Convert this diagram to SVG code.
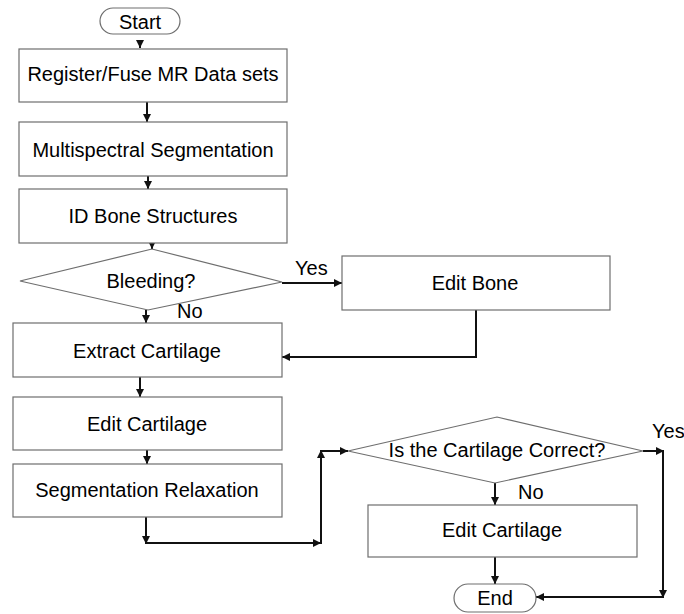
<svg xmlns="http://www.w3.org/2000/svg" width="684" height="614" viewBox="0 0 684 614">
<defs>
<style>
.box{fill:#fff;stroke:#6e6e6e;stroke-width:1.2}
.t{font-family:"Liberation Sans",Arial,sans-serif;font-size:20px;fill:#000;text-anchor:middle}
.l{font-family:"Liberation Sans",Arial,sans-serif;font-size:20px;fill:#000}
.c{stroke:#111;stroke-width:2;fill:none}
.a{marker-end:url(#ah)}
</style>
<marker id="ah" markerUnits="userSpaceOnUse" markerWidth="9" markerHeight="9" refX="8" refY="4" orient="auto">
<path d="M0,0 L8,4 L0,8 z" fill="#111"/>
</marker>
</defs>
<rect width="684" height="614" fill="#fff"/>
<g id="connectors">
<line class="c a" x1="140" y1="40" x2="140" y2="48"/>
<line class="c a" x1="147" y1="102" x2="147" y2="122"/>
<line class="c a" x1="148" y1="176" x2="148" y2="189"/>
<line class="c a" x1="152" y1="243" x2="152" y2="249"/>
<line class="c a" x1="146" y1="310" x2="146" y2="323"/>
<line class="c a" x1="282" y1="283" x2="342" y2="283"/>
<path class="c a" d="M476,310 V357 H282"/>
<line class="c a" x1="140" y1="377" x2="140" y2="397"/>
<line class="c a" x1="147" y1="450" x2="147" y2="464"/>
<line class="c a" x1="146" y1="517" x2="146" y2="544"/>
<line class="c a" x1="146" y1="543" x2="321" y2="543"/>
<line class="c a" x1="321" y1="544" x2="321" y2="450"/>
<line class="c a" x1="320" y1="451" x2="348" y2="451"/>
<line class="c a" x1="495" y1="483" x2="495" y2="505"/>
<line class="c a" x1="495" y1="557" x2="495" y2="584"/>
<line class="c a" x1="643" y1="451" x2="664" y2="451"/>
<line class="c a" x1="663" y1="450" x2="663" y2="598"/>
<line class="c a" x1="664" y1="597" x2="536" y2="597"/>
<text class="l" x="295" y="275">Yes</text>
<text class="l" x="177" y="318">No</text>
<text class="l" x="518" y="499">No</text>
<text class="l" x="652" y="438">Yes</text>
</g>
<g id="start">
<rect class="box" x="100" y="8" width="80" height="26" rx="13"/>
<text class="t" x="140" y="29">Start</text>
</g>
<g id="register">
<rect class="box" x="19" y="49" width="268" height="53"/>
<text class="t" x="153" y="81">Register/Fuse MR Data sets</text>
</g>
<g id="multispectral">
<rect class="box" x="19" y="122" width="268" height="54"/>
<text class="t" x="153" y="157">Multispectral Segmentation</text>
</g>
<g id="idbone">
<rect class="box" x="19" y="189" width="268" height="54"/>
<text class="t" x="153" y="223">ID Bone Structures</text>
</g>
<g id="bleeding">
<polygon class="box" points="20,281 152,249 282,282 148,310"/>
<text class="t" x="151" y="288">Bleeding?</text>
</g>
<g id="editbone">
<rect class="box" x="342" y="256" width="268" height="54"/>
<text class="t" x="475" y="290">Edit Bone</text>
</g>
<g id="extract">
<rect class="box" x="13" y="323" width="269" height="54"/>
<text class="t" x="147" y="358">Extract Cartilage</text>
</g>
<g id="editcart1">
<rect class="box" x="13" y="397" width="269" height="53"/>
<text class="t" x="147" y="431">Edit Cartilage</text>
</g>
<g id="segrelax">
<rect class="box" x="13" y="464" width="269" height="53"/>
<text class="t" x="147" y="497">Segmentation Relaxation</text>
</g>
<g id="correct">
<polygon class="box" points="348,451 497,417 643,451 495,483"/>
<text class="t" x="497" y="457">Is the Cartilage Correct?</text>
</g>
<g id="editcart2">
<rect class="box" x="368" y="505" width="269" height="52"/>
<text class="t" x="502" y="537">Edit Cartilage</text>
</g>
<g id="end">
<rect class="box" x="454" y="584" width="82" height="28" rx="14"/>
<text class="t" x="495" y="605">End</text>
</g>
</svg>
